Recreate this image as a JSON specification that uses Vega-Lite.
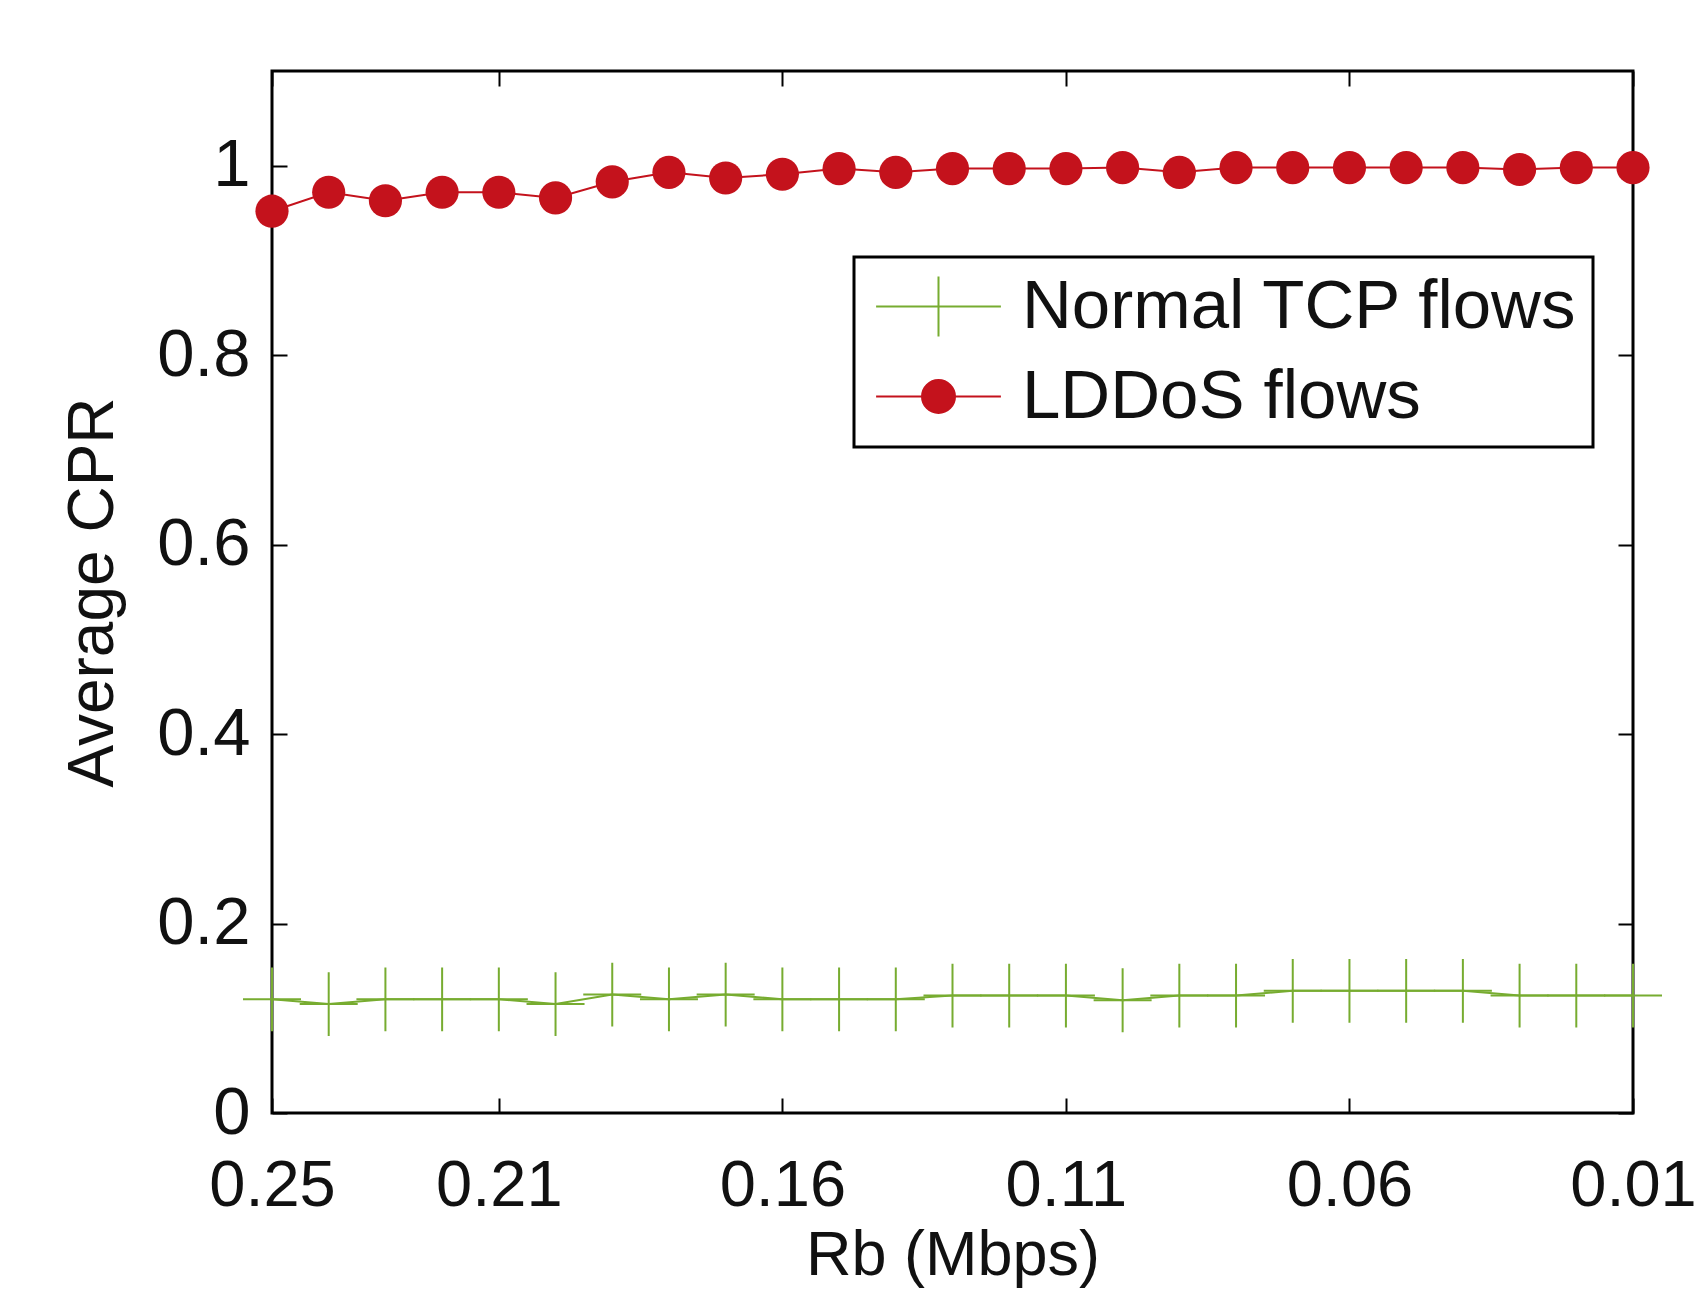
{
  "$schema": "https://vega.github.io/schema/vega-lite/v6.json",
  "width": 1361,
  "height": 1042,
  "autosize": "none",
  "padding": {"left": 272, "top": 71, "right": 74, "bottom": 177},
  "background": "white",
  "config": {
    "font": "Liberation Sans",
    "view": {"stroke": "black", "strokeWidth": 3},
    "axis": {"grid": false, "domain": false, "labelColor": "#111111", "titleColor": "#111111", "tickColor": "black", "tickWidth": 2, "tickSize": -15, "labelFont": "Liberation Sans", "titleFont": "Liberation Sans", "titleFontWeight": "normal"}
  },
  "data": {
    "values": [
      {"rb": 0.25, "cpr": 0.120, "series": "Normal TCP flows"},
      {"rb": 0.24, "cpr": 0.115, "series": "Normal TCP flows"},
      {"rb": 0.23, "cpr": 0.120, "series": "Normal TCP flows"},
      {"rb": 0.22, "cpr": 0.120, "series": "Normal TCP flows"},
      {"rb": 0.21, "cpr": 0.120, "series": "Normal TCP flows"},
      {"rb": 0.20, "cpr": 0.115, "series": "Normal TCP flows"},
      {"rb": 0.19, "cpr": 0.125, "series": "Normal TCP flows"},
      {"rb": 0.18, "cpr": 0.120, "series": "Normal TCP flows"},
      {"rb": 0.17, "cpr": 0.125, "series": "Normal TCP flows"},
      {"rb": 0.16, "cpr": 0.120, "series": "Normal TCP flows"},
      {"rb": 0.15, "cpr": 0.120, "series": "Normal TCP flows"},
      {"rb": 0.14, "cpr": 0.120, "series": "Normal TCP flows"},
      {"rb": 0.13, "cpr": 0.124, "series": "Normal TCP flows"},
      {"rb": 0.12, "cpr": 0.124, "series": "Normal TCP flows"},
      {"rb": 0.11, "cpr": 0.124, "series": "Normal TCP flows"},
      {"rb": 0.10, "cpr": 0.119, "series": "Normal TCP flows"},
      {"rb": 0.09, "cpr": 0.124, "series": "Normal TCP flows"},
      {"rb": 0.08, "cpr": 0.124, "series": "Normal TCP flows"},
      {"rb": 0.07, "cpr": 0.129, "series": "Normal TCP flows"},
      {"rb": 0.06, "cpr": 0.129, "series": "Normal TCP flows"},
      {"rb": 0.05, "cpr": 0.129, "series": "Normal TCP flows"},
      {"rb": 0.04, "cpr": 0.129, "series": "Normal TCP flows"},
      {"rb": 0.03, "cpr": 0.124, "series": "Normal TCP flows"},
      {"rb": 0.02, "cpr": 0.124, "series": "Normal TCP flows"},
      {"rb": 0.01, "cpr": 0.124, "series": "Normal TCP flows"},
      {"rb": 0.25, "cpr": 0.952, "series": "LDDoS flows"},
      {"rb": 0.24, "cpr": 0.972, "series": "LDDoS flows"},
      {"rb": 0.23, "cpr": 0.963, "series": "LDDoS flows"},
      {"rb": 0.22, "cpr": 0.972, "series": "LDDoS flows"},
      {"rb": 0.21, "cpr": 0.972, "series": "LDDoS flows"},
      {"rb": 0.20, "cpr": 0.966, "series": "LDDoS flows"},
      {"rb": 0.19, "cpr": 0.983, "series": "LDDoS flows"},
      {"rb": 0.18, "cpr": 0.993, "series": "LDDoS flows"},
      {"rb": 0.17, "cpr": 0.987, "series": "LDDoS flows"},
      {"rb": 0.16, "cpr": 0.991, "series": "LDDoS flows"},
      {"rb": 0.15, "cpr": 0.997, "series": "LDDoS flows"},
      {"rb": 0.14, "cpr": 0.993, "series": "LDDoS flows"},
      {"rb": 0.13, "cpr": 0.997, "series": "LDDoS flows"},
      {"rb": 0.12, "cpr": 0.997, "series": "LDDoS flows"},
      {"rb": 0.11, "cpr": 0.997, "series": "LDDoS flows"},
      {"rb": 0.10, "cpr": 0.998, "series": "LDDoS flows"},
      {"rb": 0.09, "cpr": 0.993, "series": "LDDoS flows"},
      {"rb": 0.08, "cpr": 0.998, "series": "LDDoS flows"},
      {"rb": 0.07, "cpr": 0.998, "series": "LDDoS flows"},
      {"rb": 0.06, "cpr": 0.998, "series": "LDDoS flows"},
      {"rb": 0.05, "cpr": 0.998, "series": "LDDoS flows"},
      {"rb": 0.04, "cpr": 0.998, "series": "LDDoS flows"},
      {"rb": 0.03, "cpr": 0.996, "series": "LDDoS flows"},
      {"rb": 0.02, "cpr": 0.998, "series": "LDDoS flows"},
      {"rb": 0.01, "cpr": 0.998, "series": "LDDoS flows"}
    ]
  },
  "layer": [
    {
      "mark": {"type": "line", "strokeWidth": 2, "clip": false},
      "encoding": {
        "x": {"field": "rb", "type": "quantitative",
          "scale": {"domain": [0.01, 0.25], "reverse": true, "nice": false, "zero": false},
          "axis": {"orient": "bottom", "values": [0.25, 0.21, 0.16, 0.11, 0.06, 0.01], "format": ".2f", "title": "Rb (Mbps)", "labelFontSize": 65, "labelBaseline": "alphabetic", "labelPadding": 107, "labelFlush": false, "labelOverlap": false, "titleFontSize": 63, "titleY": 161, "titleBaseline": "alphabetic"}},
        "y": {"field": "cpr", "type": "quantitative",
          "scale": {"domain": [0, 1.1], "nice": false, "zero": true},
          "axis": {"orient": "left", "values": [0, 0.2, 0.4, 0.6, 0.8, 1], "format": ".1~f", "title": "Average CPR", "labelFontSize": 67, "labelPadding": 37, "labelOverlap": false, "labelFlush": false, "titleFontSize": 64, "titleX": -160, "titleBaseline": "alphabetic"}},
        "color": {"field": "series", "type": "nominal",
          "scale": {"domain": ["Normal TCP flows", "LDDoS flows"], "range": ["#77AC30", "#C4121C"]},
          "legend": {"orient": "none", "legendX": 582, "legendY": 186, "title": null, "strokeColor": "black", "fillColor": "white", "padding": 15, "rowPadding": 20, "labelFontSize": 69, "labelColor": "#111111", "labelFont": "Liberation Sans", "symbolSize": 3600, "symbolOffset": 35, "labelOffset": 49, "symbolStrokeWidth": 2, "labelLimit": 0,
            "encode": {
              "legend": {"update": {"strokeWidth": {"value": 3}}},
              "symbols": {"update": {
              "shape": {"signal": "datum.value === 'LDDoS flows' ? 'M-2.08,0H2.08M-0.55,0A0.55,0.55,0,1,0,0.55,0A0.55,0.55,0,1,0,-0.55,0' : 'M-2.08,0H2.08M0,-1V1'"},
              "fill": {"signal": "datum.value === 'LDDoS flows' ? '#C4121C' : 'transparent'"},
              "stroke": {"signal": "datum.value === 'LDDoS flows' ? '#C4121C' : '#77AC30'"},
              "strokeWidth": {"value": 2},
              "opacity": {"value": 1}
            }}}}
        }
      }
    },
    {
      "transform": [{"filter": "datum.series === 'Normal TCP flows'"}],
      "mark": {"type": "point", "shape": "M-1,0H1M0,-1.1V1.1", "filled": false, "size": 3364, "strokeWidth": 2, "color": "#77AC30", "opacity": 1},
      "encoding": {
        "x": {"field": "rb", "type": "quantitative", "axis": null},
        "y": {"field": "cpr", "type": "quantitative", "axis": null}
      }
    },
    {
      "transform": [{"filter": "datum.series === 'LDDoS flows'"}],
      "mark": {"type": "point", "shape": "circle", "filled": true, "size": 1100, "color": "#C4121C", "opacity": 1},
      "encoding": {
        "x": {"field": "rb", "type": "quantitative", "axis": null},
        "y": {"field": "cpr", "type": "quantitative", "axis": null}
      }
    },
    {
      "mark": {"type": "point", "opacity": 0},
      "encoding": {
        "x": {"field": "rb", "type": "quantitative",
          "axis": {"orient": "top", "values": [0.25, 0.21, 0.16, 0.11, 0.06, 0.01], "labels": false, "title": null}},
        "y": {"field": "cpr", "type": "quantitative",
          "axis": {"orient": "right", "values": [0, 0.2, 0.4, 0.6, 0.8, 1], "labels": false, "title": null}}
      }
    }
  ],
  "resolve": {"axis": {"x": "independent", "y": "independent"}}
}
